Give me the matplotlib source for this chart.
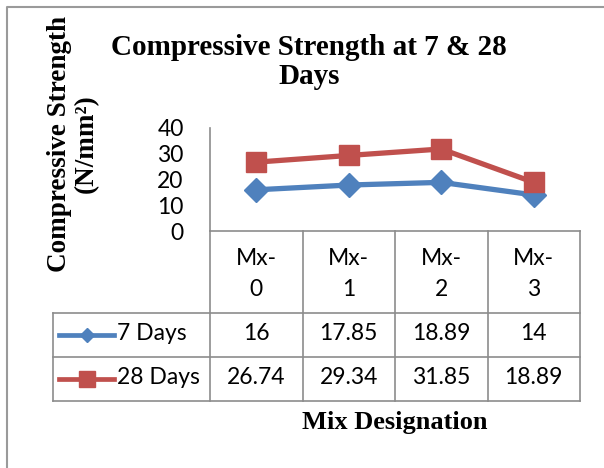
import matplotlib
matplotlib.use('Agg')
import matplotlib.pyplot as plt
from matplotlib.lines import Line2D

mixes = ['Mx-\n0', 'Mx-\n1', 'Mx-\n2', 'Mx-\n3']
days7 = [16, 17.85, 18.89, 14]
days28 = [26.74, 29.34, 31.85, 18.89]
table_7 = ['16', '17.85', '18.89', '14']
table_28 = ['26.74', '29.34', '31.85', '18.89']
yticks = [0, 10, 20, 30, 40]

blue = '#4F81BD'
red = '#C0504D'
grid = '#8C8C8C'
sans = 'Lato'
serif = 'Liberation Serif'

W, H = 604, 468
fig = plt.figure(figsize=(W / 100, H / 100), dpi=100)

# overlay in pixel coords for border, table and text
bg = fig.add_axes([0, 0, 1, 1], zorder=0)
bg.set_xlim(0, W)
bg.set_ylim(H, 0)
bg.axis('off')

# plot area
x0, x1, ytop, ybot = 210, 580, 128, 231
ax = fig.add_axes([x0 / W, 1 - ybot / H, (x1 - x0) / W, (ybot - ytop) / H], zorder=2)
ax.patch.set_alpha(0)
x = range(len(mixes))
ax.plot(x, days7, color=blue, lw=3.8, marker='D', ms=12, mfc=blue, mec=blue, clip_on=False)
ax.plot(x, days28, color=red, lw=3.8, marker='s', ms=14, mfc=red, mec=red, clip_on=False)
ax.set_xlim(-0.5, len(mixes) - 0.5)
ax.set_ylim(0, 40)
ax.set_yticks(yticks)
ax.set_xticks([])
ax.tick_params(axis='y', length=0, pad=19, labelsize=16.5)
for lab in ax.get_yticklabels():
    lab.set_fontfamily(sans)
for s in ['top', 'right', 'bottom']:
    ax.spines[s].set_visible(False)
ax.spines['left'].set_color(grid)
ax.spines['left'].set_linewidth(1.2)

# outer border
bg.add_line(Line2D([7, 7, W], [H, 7, 7], color='#9A9A9A', lw=1.5))

# table grid
colw = (x1 - x0) / len(mixes)
rows = [231, 313, 357, 401]
tleft = 53
bg.add_line(Line2D([x0, x1], [rows[0], rows[0]], color=grid, lw=1.2))
for r in rows[1:]:
    bg.add_line(Line2D([tleft, x1], [r, r], color=grid, lw=1.2))
for i in range(len(mixes) + 1):
    xc = x0 + i * colw
    bg.add_line(Line2D([xc, xc], [rows[0], rows[-1]], color=grid, lw=1.2))
bg.add_line(Line2D([tleft, tleft], [rows[1], rows[-1]], color=grid, lw=1.2))

# table text
for i, m in enumerate(mixes):
    xc = x0 + (i + 0.5) * colw
    bg.text(xc, (rows[0] + rows[1]) / 2 + 2, m, ha='center', va='center',
            fontsize=16.5, family=sans, linespacing=1.58)
    bg.text(xc, (rows[1] + rows[2]) / 2 - 1, table_7[i], ha='center', va='center',
            fontsize=16.5, family=sans)
    bg.text(xc, (rows[2] + rows[3]) / 2 - 1, table_28[i], ha='center', va='center',
            fontsize=16.5, family=sans)

# legend keys in table
for r0, r1, col, mk, ms, name in [(rows[1], rows[2], blue, 'D', 7, '7 Days'),
                                  (rows[2], rows[3], red, 's', 12, '28 Days')]:
    yc = (r0 + r1) / 2
    bg.add_line(Line2D([59, 114], [yc, yc], color=col, lw=3.4))
    bg.add_line(Line2D([87], [yc], color=col, marker=mk, ms=ms, mfc=col, mec=col))
    bg.text(117, yc - 1, name, ha='left', va='center', fontsize=16.5, family=sans)

# titles
bg.text(309, 62, 'Compressive Strength at 7 & 28\nDays', ha='center', va='center',
        fontsize=21, family=serif, weight='bold', linespacing=1.05)
bg.text(73, 144, 'Compressive Strength\n(N/mm²)', ha='center', va='center',
        rotation=90, fontsize=19.5, family=serif, weight='bold', linespacing=1.1)
bg.text(395, 422, 'Mix Designation', ha='center', va='center',
        fontsize=19, family=serif, weight='bold')

fig.savefig('out.png', dpi=100)
